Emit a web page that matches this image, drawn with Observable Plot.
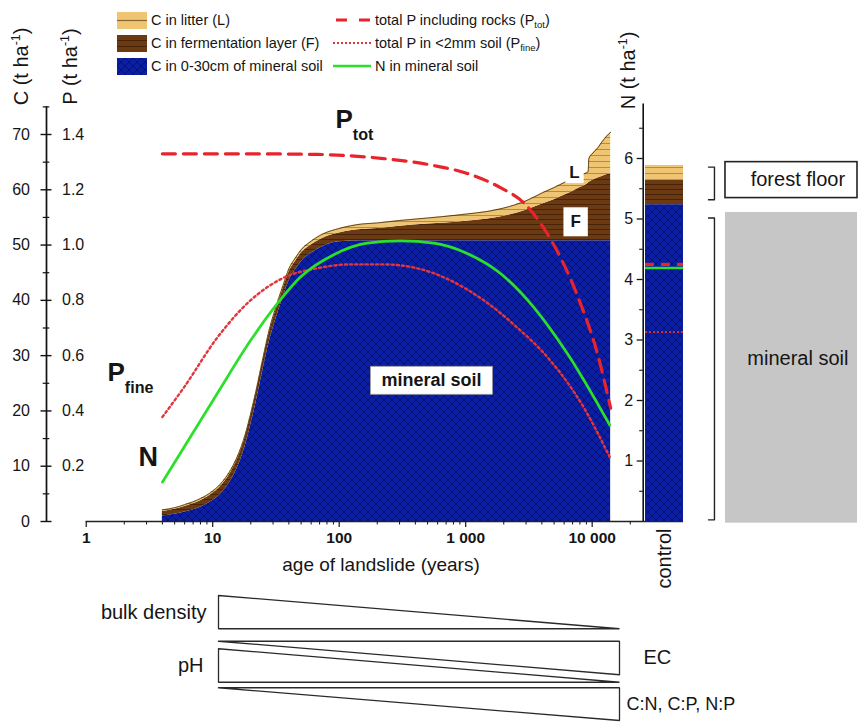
<!DOCTYPE html>
<html>
<head>
<meta charset="utf-8">
<script src="https://cdn.jsdelivr.net/npm/d3@7"></script>
<script src="https://cdn.jsdelivr.net/npm/@observablehq/plot@0.6"></script>
<style>
  html, body { margin: 0; padding: 0; background: #fff; }
  #fig { position: relative; width: 862px; height: 723px; overflow: hidden; background: #fff; color: #151515;
         font-family: "Liberation Sans", Arial, Helvetica, sans-serif; }
  #fig svg.layer { position: absolute; left: 0; top: 0; max-width: none; }
  .leg { position: absolute; display: flex; align-items: center; font-size: 14.5px; white-space: nowrap; height: 18px; line-height: 18px; }
  .leg svg { display: block; }
  .leg sub { font-size: 9.5px; vertical-align: -3px; line-height: 0; }
</style>
</head>
<body>
<div id="fig"></div>
<script>
// ---------------- data ----------------
const ages      = [4,5,6,8,10,12,14,16,18,20,22,25,28,32,36,40,45,50,60,75,100,150,200,300,500,700,1000,1500,2000,3000,4000,5000,6000,7000,8000,9300,9400,10000,11000,12000,13000,14000];
const cMineral  = [1.0,1.3,1.7,2.6,3.8,5.4,7.5,10.2,13.5,17.5,21.5,27.5,32.5,37.0,40.5,43.5,45.5,47.0,48.5,49.8,50.6,50.8,50.8,50.8,50.8,50.8,50.8,50.8,50.8,50.8,50.8,50.8,50.8,50.8,50.8,50.8,50.8,50.8,50.8,50.8,50.8,50.8];
const cFerment  = [0.8,0.9,1.0,1.15,1.3,1.4,1.5,1.55,1.6,1.6,1.6,1.6,1.6,1.6,1.6,1.6,1.55,1.5,1.5,1.5,1.6,2.0,2.2,2.6,3.0,3.2,3.5,3.9,4.4,5.5,6.6,7.4,8.2,8.9,9.6,10.4,10.5,10.9,11.3,11.6,11.9,12.1];
const cLitter   = [0.3,0.3,0.35,0.4,0.4,0.45,0.5,0.5,0.5,0.5,0.55,0.55,0.6,0.6,0.6,0.6,0.6,0.65,0.7,0.75,0.8,1.0,1.0,1.05,1.1,1.2,1.3,1.4,1.5,1.7,2.0,2.2,2.3,2.3,2.2,2.1,4.3,4.8,5.4,6.3,7.0,7.5];

const ptotAges    = [4, 20, 67, 120, 224, 556, 1030, 1880, 2860, 4120, 5620, 8090, 11000, 14000];
const ptotValues  = [1.33, 1.33, 1.328, 1.323, 1.313, 1.288, 1.259, 1.208, 1.154, 1.063, 0.955, 0.788, 0.608, 0.41];
const pfineAges   = [4, 5.9, 10.9, 19.9, 36.5, 67, 123, 225, 414, 759, 1390, 2550, 4680, 8590, 13800];
const pfineValues = [0.378, 0.484, 0.666, 0.80, 0.882, 0.916, 0.93, 0.93, 0.916, 0.872, 0.80, 0.702, 0.582, 0.412, 0.232];
const nAges       = [4, 5.9, 10.9, 19.9, 32.4, 49.4, 90.6, 166, 305, 560, 1028, 1884, 3455, 6345, 13800];
const nValues     = [0.65, 1.22, 2.12, 2.99, 3.60, 4.04, 4.41, 4.6, 4.64, 4.6, 4.43, 4.1, 3.54, 2.78, 1.59];

const controlSite    = "control";
const controlLayers  = ["mineral", "fermentation", "litter"];
const controlCValues = [57.3, 4.4, 2.7];
const controlPtot  = 0.93;
const controlPfine = 0.685;
const controlN     = 4.19;

const xTickValues = [1, 10, 100, 1000, 10000];
const xTickLabels = ["1", "10", "100", "1 000", "10 000"];
const cTickValues = [0, 10, 20, 30, 40, 50, 60, 70];
const cMinorTicks = [5, 15, 25, 35, 45, 55, 65, 75];
const pTickValues = [0.2, 0.4, 0.6, 0.8, 1.0, 1.2, 1.4];
const nTickValues = [1, 2, 3, 4, 5, 6];
const nMinorTicks = [0.5, 1.5, 2.5, 3.5, 4.5, 5.5, 6.5];

const gradientNames = ["bulk density", "EC", "pH", "C:N, C:P, N:P"];
const gradientWide  = ["left", "right", "left", "right"];

const legendCLabels = ["C in litter (L)", "C in fermentation layer (F)", "C in 0-30cm of mineral soil"];
const legendLineLabels = [["total P including rocks (P", "tot", ")"], ["total P in <2mm soil (P", "fine", ")"], ["N in mineral soil", "", ""]];

// ---------------- styles ----------------
const FONT = "'Liberation Sans', Arial, Helvetica, sans-serif";
const BLUE = "#0b1fa6", BLUE_LINE = "#05116c";
const BROWN = "#6b3a12", BROWN_LINE = "#472408";
const TAN = "#efc574", TAN_LINE = "#a67c3c";
const RED = "#e8232c", RED_DOT = "#e2363e", GREEN = "#2ae02a";

const fig = document.getElementById("fig");

// pattern definitions
const defsSvg = d3.select(fig).append("svg").attr("width", 0).attr("height", 0).style("position", "absolute");
const defs = defsSvg.append("defs");
{
  const pm = defs.append("pattern").attr("id", "pat-m").attr("patternUnits", "userSpaceOnUse").attr("width", 8).attr("height", 8);
  pm.append("rect").attr("width", 8).attr("height", 8).attr("fill", BLUE);
  pm.append("path").attr("d", "M0,0L8,8M8,0L0,8").attr("stroke", BLUE_LINE).attr("stroke-width", 0.9);
  const pf = defs.append("pattern").attr("id", "pat-f").attr("patternUnits", "userSpaceOnUse").attr("width", 10).attr("height", 5);
  pf.append("rect").attr("width", 10).attr("height", 5).attr("fill", BROWN);
  pf.append("path").attr("d", "M0,4.5H10").attr("stroke", BROWN_LINE).attr("stroke-width", 1);
  const pl = defs.append("pattern").attr("id", "pat-l").attr("patternUnits", "userSpaceOnUse").attr("width", 10).attr("height", 6);
  pl.append("rect").attr("width", 10).attr("height", 6).attr("fill", TAN);
  pl.append("path").attr("d", "M0,5.5H10").attr("stroke", TAN_LINE).attr("stroke-width", 0.8);
}

function layer(spec) {
  const {marginLeft = 0, marginRight = 0, marginTop = 0, marginBottom = 0, ...rest} = spec;
  const svg = Plot.plot({
    width: 862, height: 723,
    marginLeft, marginRight, marginTop, marginBottom,
    style: `font-family:${FONT};font-size:16px;background:transparent;overflow:visible;`,
    ...rest
  });
  svg.classList.add("layer");
  fig.appendChild(svg);
  richify(svg);
  return svg;
}

// turn _{..} and ^{..} into shifted tspans
function richify(svg) {
  d3.select(svg).selectAll("text").each(function () {
    const s = this.textContent;
    if (!/[\^_]\{/.test(s)) return;
    const fs = parseFloat(getComputedStyle(this).fontSize) || 16;
    const parts = s.split(/(\^\{[^}]*\}|_\{[^}]*\})/).filter(p => p !== "");
    this.textContent = "";
    let shift = 0;
    for (const p of parts) {
      let target = 0, txt = p, small = false;
      if (p.startsWith("^{")) { target = -0.42 * fs; txt = p.slice(2, -1); small = true; }
      else if (p.startsWith("_{")) { target = 0.45 * fs; txt = p.slice(2, -1); small = true; }
      const t = d3.select(this).append("tspan").attr("dy", target - shift).text(txt);
      if (small) t.attr("font-size", 0.62 * fs);
      shift = target;
    }
  });
}

// white boxes behind labels (found by their text)
function boxText(svg, content, padX, padY, stroke) {
  d3.select(svg).selectAll("text").filter(function () { return this.textContent === content; }).each(function () {
    const b = this.getBBox();
    const node = this;
    const r = document.createElementNS("http://www.w3.org/2000/svg", "rect");
    r.setAttribute("x", b.x - padX);
    r.setAttribute("y", b.y - padY);
    r.setAttribute("width", b.width + 2 * padX);
    r.setAttribute("height", b.height + 2 * padY);
    const tr = node.getAttribute("transform");
    if (tr) r.setAttribute("transform", tr);
    r.setAttribute("fill", "white");
    r.setAttribute("stroke", stroke || "none");
    r.setAttribute("stroke-width", "0.8");
    node.parentNode.insertBefore(r, node);
  });
}

// ---------------- derived tables ----------------
const cRows = ages.map((age, i) => ({
  age,
  m: cMineral[i],
  f: cMineral[i] + cFerment[i],
  l: cMineral[i] + cFerment[i] + cLitter[i]
}));
const ptotRows  = ptotAges.map((age, i) => ({age, p: ptotValues[i]}));
const pfineRows = pfineAges.map((age, i) => ({age, p: pfineValues[i]}));
const nRows     = nAges.map((age, i) => ({age, n: nValues[i]}));
const ctrlRows = controlLayers.map((layer, i) => ({
  site: controlSite, layer,
  y1: d3.sum(controlCValues.slice(0, i)),
  y2: d3.sum(controlCValues.slice(0, i + 1))
}));
const minorX = [];
for (let d = 0; d < 4; d++) for (let k = 2; k <= 9; k++) minorX.push(k * 10 ** d);
minorX.push(20000);

const xDomain = [10 ** -0.314, 10 ** 4.722];
const xLog = {type: "log", domain: xDomain, range: [46, 683]};
const frameMargins = {marginLeft: 46, marginRight: 179, marginTop: 134, marginBottom: 202};

// ---------------- 1. carbon stocks (C scale) ----------------
const cLayer = layer({
  ...frameMargins,
  x: {type: "log", domain: xDomain},
  y: {domain: [0, 70], axis: null},
  marks: [
    Plot.areaY(cRows, {x: "age", y1: 0, y2: "m", fill: "url(#pat-m)", curve: "monotone-x"}),
    Plot.areaY(cRows, {x: "age", y1: "m", y2: "f", fill: "url(#pat-f)", curve: "monotone-x"}),
    Plot.areaY(cRows, {x: "age", y1: "f", y2: "l", fill: "url(#pat-l)", curve: "monotone-x"}),
    Plot.lineY(cRows, {x: "age", y: "l", stroke: "#3d2a0c", strokeWidth: 0.8, curve: "monotone-x"}),
    Plot.ruleY([0], {x1: 1, x2: xDomain[1], stroke: "#222", strokeWidth: 1.5}),
    Plot.axisX({anchor: "bottom", ticks: xTickValues, tickSize: 6, tickPadding: 4,
      tickFormat: d => xTickLabels[xTickValues.indexOf(d)], fontSize: 15.5, fontWeight: "bold", label: null, strokeWidth: 1.2}),
    Plot.axisX({anchor: "bottom", ticks: minorX, tickSize: 3.5, tickFormat: () => "", label: null, strokeWidth: 1}),
    Plot.text(["age of landslide (years)"], {frameAnchor: "bottom", dx: 16, dy: 49, fontSize: 19}),
    Plot.text(["mineral soil"], {x: 536, y: 25.5, fontSize: 18, fontWeight: "bold"}),
    Plot.text(["L"], {x: 7245, y: 63.1, fontSize: 17, fontWeight: "bold"}),
    Plot.text(["F"], {x: 7400, y: 54.2, fontSize: 17, fontWeight: "bold"})
  ]
});
boxText(cLayer, "mineral soil", 11, 4, "#9a9a9a");
boxText(cLayer, "L", 4, 1);
boxText(cLayer, "F", 7, 5);

// ---------------- 2. control bar ----------------
layer({
  marginLeft: 645, marginRight: 179, marginTop: 134, marginBottom: 202,
  x: {type: "band", domain: [controlSite], padding: 0},
  y: {domain: [0, 70], axis: null},
  marks: [
    Plot.barY(ctrlRows.filter(d => d.layer === "mineral"), {x: "site", y1: "y1", y2: "y2", fill: "url(#pat-m)"}),
    Plot.barY(ctrlRows.filter(d => d.layer === "fermentation"), {x: "site", y1: "y1", y2: "y2", fill: "url(#pat-f)"}),
    Plot.barY(ctrlRows.filter(d => d.layer === "litter"), {x: "site", y1: "y1", y2: "y2", fill: "url(#pat-l)"}),
    Plot.axisX({anchor: "bottom", tickSize: 0, tickPadding: 7, tickRotate: -90, fontSize: 20, label: null})
  ]
});

// ---------------- 3. right-hand panel ----------------
const ctrlMineralTop = controlCValues[0];
const ctrlTotal = d3.sum(controlCValues);
layer({
  marginLeft: 708, marginRight: 5, marginTop: 134, marginBottom: 202,
  x: {domain: [0, 1], axis: null},
  y: {domain: [0, 70], axis: null},
  marks: [
    Plot.rect([0], {x1: 0.114, x2: 1, y1: -0.3, y2: ctrlMineralTop - 1.4, fill: "#c6c6c6"}),
    Plot.rect([0], {x1: 0.114, x2: 1, y1: ctrlMineralTop + 1.2, y2: ctrlTotal + 0.6, fill: "white", stroke: "#222", strokeWidth: 1.6}),
    Plot.line([[0, ctrlMineralTop + 0.9], [0.04, ctrlMineralTop + 0.9], [0.04, ctrlTotal - 0.3], [0, ctrlTotal - 0.3]],
      {x: d => d[0], y: d => d[1], stroke: "#222", strokeWidth: 1.4}),
    Plot.line([[0, 0.3], [0.04, 0.3], [0.04, ctrlMineralTop - 2.4], [0, ctrlMineralTop - 2.4]],
      {x: d => d[0], y: d => d[1], stroke: "#222", strokeWidth: 1.4}),
    Plot.text(["forest floor"], {x: 0.6, y: ctrlMineralTop + 4.5, fontSize: 20}),
    Plot.text(["mineral soil"], {x: 0.6, y: 29.5, fontSize: 20})
  ]
});

// ---------------- 4. gradient triangles ----------------
const triRows = [
  {name: gradientNames[0], wide: gradientWide[0], top: 0,     bottom: 0.266},
  {name: gradientNames[1], wide: gradientWide[1], top: 0.366, bottom: 0.634},
  {name: gradientNames[2], wide: gradientWide[2], top: 0.426, bottom: 0.694},
  {name: gradientNames[3], wide: gradientWide[3], top: 0.738, bottom: 1.0}
];
const triPts = triRows.flatMap(r => (r.wide === "left"
  ? [[0, r.top], [1, r.bottom], [0, r.bottom], [0, r.top]]
  : [[0, r.top], [1, r.top], [1, r.bottom], [0, r.top]]).map(([x, y]) => ({name: r.name, x, y})));
const mid = r => (r.top + r.bottom) / 2;
layer({
  marginLeft: 218, marginRight: 243, marginTop: 595, marginBottom: 3,
  x: {domain: [0, 1], axis: null},
  y: {domain: [0, 1], range: [595, 720], axis: null},
  marks: [
    Plot.line(triPts, {x: "x", y: "y", z: "name", stroke: "#2a2a2a", strokeWidth: 1.3, strokeLinejoin: "miter"}),
    Plot.text([triRows[0]], {x: 0, y: mid, text: "name", textAnchor: "end", dx: -12, fontSize: 20}),
    Plot.text([triRows[2]], {x: 0, y: mid, text: "name", textAnchor: "end", dx: -15, fontSize: 20}),
    Plot.text([triRows[1]], {x: 1, y: mid, text: "name", textAnchor: "start", dx: 24, fontSize: 20}),
    Plot.text([triRows[3]], {x: 1, y: mid, text: "name", textAnchor: "start", dx: 7, fontSize: 18})
  ]
});

// ---------------- 5. left axis (C) ----------------
layer({
  x: {domain: [-1, 1], range: [40.5, 51.5], axis: null},
  y: {domain: [0, 70], range: [521, 134], axis: null},
  marks: [
    Plot.ruleX([0], {y1: 0, y2: 75, stroke: "#111", strokeWidth: 1.7}),
    Plot.ruleY(cTickValues, {x1: -1, x2: 1, stroke: "#111", strokeWidth: 1.4}),
    Plot.ruleY(cMinorTicks, {x1: -0.6, x2: 0.6, stroke: "#111", strokeWidth: 1.2}),
    Plot.text(cTickValues, {x: -1, y: d => d, text: d => String(d), textAnchor: "end", dx: -11, fontSize: 16}),
    Plot.text(["C (t ha^{-1})"], {frameAnchor: "top-left", dx: 21, dy: 66, rotate: -90, fontSize: 20,
      textAnchor: "middle", lineAnchor: "middle"})
  ]
});

// ---------------- 6. left axis (P labels) ----------------
layer({
  x: {domain: [-1, 1], range: [40.5, 51.5], axis: null},
  y: {domain: [0, 1.4], range: [521, 134], axis: null},
  marks: [
    Plot.text(pTickValues, {x: 1, y: d => d, text: d => d.toFixed(1), textAnchor: "start", dx: 10, fontSize: 16}),
    Plot.text(["P (t ha^{-1})"], {frameAnchor: "top-left", dx: 70, dy: 66, rotate: -90, fontSize: 20,
      textAnchor: "middle", lineAnchor: "middle"})
  ]
});

// ---------------- 7. phosphorus lines ----------------
layer({
  marginLeft: 645, marginRight: 179, marginTop: 134, marginBottom: 202,
  x: {...xLog, axis: null},
  y: {domain: [0, 1.4], axis: null},
  marks: [
    Plot.line(ptotRows, {x: "age", y: "p", stroke: RED, strokeWidth: 3.2, strokeDasharray: "13,8", curve: "monotone-x"}),
    Plot.line(pfineRows, {x: "age", y: "p", stroke: RED_DOT, strokeWidth: 2.4, strokeDasharray: "2.2,3", curve: "monotone-x"}),
    Plot.ruleY([controlPtot], {stroke: RED, strokeWidth: 3.2, strokeDasharray: "9,7"}),
    Plot.ruleY([controlPfine], {stroke: RED_DOT, strokeWidth: 1.6, strokeDasharray: "2,2"}),
    Plot.text(["P_{tot}"], {x: 93.5, y: 1.454, textAnchor: "start", fontSize: 26, fontWeight: "bold"}),
    Plot.text(["P_{fine}"], {x: 1.474, y: 0.537, textAnchor: "start", fontSize: 26, fontWeight: "bold"})
  ]
});

// ---------------- 8. nitrogen line ----------------
layer({
  x: {...xLog, axis: null},
  y: {domain: [0, 6], range: [521, 158], axis: null},
  marks: [
    Plot.line(nRows, {x: "age", y: "n", stroke: GREEN, strokeWidth: 2.7, curve: "monotone-x"}),
    Plot.text(["N"], {x: 2.59, y: 1.058, textAnchor: "start", fontSize: 27, fontWeight: "bold"})
  ]
});

// ---------------- 9. right axis (N) ----------------
layer({
  marginLeft: 642.7, marginRight: 179, marginTop: 0, marginBottom: 202,
  x: {domain: [0, 1], axis: null},
  y: {domain: [0, 6], range: [521, 158]},
  marks: [
    Plot.ruleX([0], {y1: 0, y2: 6.9, stroke: "#111", strokeWidth: 1.6}),
    Plot.axisY({anchor: "left", ticks: nTickValues, tickSize: 6, tickPadding: 4, tickFormat: d => String(d),
      fontSize: 16, label: null, strokeWidth: 1.3}),
    Plot.axisY({anchor: "left", ticks: nMinorTicks, tickSize: 3.5, tickFormat: () => "", label: null, strokeWidth: 1.1}),
    Plot.ruleY([controlN], {insetLeft: 2.3, stroke: GREEN, strokeWidth: 2.7}),
    Plot.text(["N (t ha^{-1})"], {frameAnchor: "top-left", dx: -14.5, dy: 70, rotate: -90, fontSize: 20,
      textAnchor: "middle", lineAnchor: "middle"})
  ]
});

// ---------------- legend (HTML) ----------------
const legTops = [20, 43, 66];
legendCLabels.forEach((label, i) => {
  const div = d3.select(fig).append("div").attr("class", "leg")
    .style("left", "117px").style("top", (legTops[i] - 9) + "px");
  const s = div.append("svg").attr("width", 30).attr("height", 17).style("margin-right", "4px");
  if (i === 0) {
    s.append("rect").attr("width", 30).attr("height", 17).attr("fill", TAN);
    s.append("path").attr("d", "M0,8.5H30").attr("stroke", "#8a6430").attr("stroke-width", 1.2);
  } else if (i === 1) {
    s.append("rect").attr("width", 30).attr("height", 17).attr("fill", BROWN);
    s.append("path").attr("d", "M0,5.5H30M0,11.5H30").attr("stroke", BROWN_LINE).attr("stroke-width", 1.2);
  } else {
    s.append("rect").attr("width", 30).attr("height", 17).attr("fill", "url(#pat-m)");
  }
  div.append("span").text(label);
});
legendLineLabels.forEach(([a, sub, b], i) => {
  const div = d3.select(fig).append("div").attr("class", "leg")
    .style("left", "333px").style("top", (legTops[i] - 9) + "px");
  const s = div.append("svg").attr("width", 38).attr("height", 10).style("margin-right", "4px");
  const ln = s.append("line").attr("x1", 0).attr("x2", 38).attr("y1", 5).attr("y2", 5);
  if (i === 0) ln.attr("x1", 3).attr("x2", 37).attr("stroke", RED).attr("stroke-width", 3).attr("stroke-dasharray", "11,12");
  else if (i === 1) ln.attr("stroke", RED_DOT).attr("stroke-width", 2).attr("stroke-dasharray", "2,2");
  else ln.attr("stroke", GREEN).attr("stroke-width", 2.5);
  const span = div.append("span");
  span.append("span").text(a);
  if (sub) span.append("sub").text(sub);
  if (b) span.append("span").text(b);
});
</script>
</body>
</html>
